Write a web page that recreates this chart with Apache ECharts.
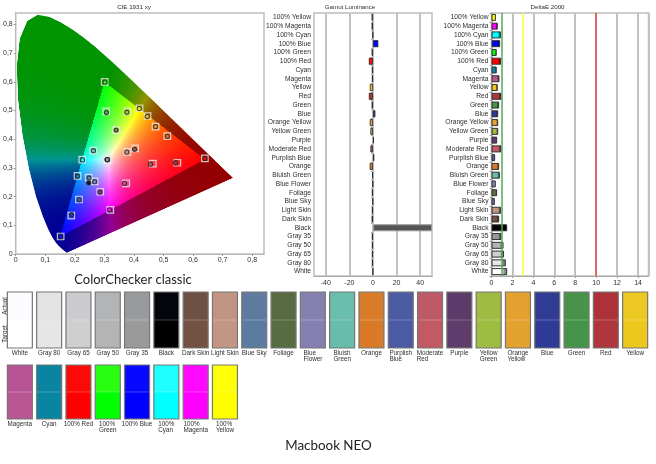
<!DOCTYPE html>
<html><head><meta charset="utf-8">
<style>html,body{margin:0;padding:0;background:#fff}#c{width:656px;height:464px;filter:blur(0.3px)}</style>
<script src="https://cdn.jsdelivr.net/npm/echarts@6/dist/echarts.min.js"></script>
</head><body><div id="c"></div>
<script>
// ---------- data ----------
const barCategories = ['100% Yellow','100% Magenta','100% Cyan','100% Blue','100% Green','100% Red','Cyan','Magenta','Yellow','Red','Green','Blue','Orange Yellow','Yellow Green','Purple','Moderate Red','Purplish Blue','Orange','Bluish Green','Blue Flower','Foliage','Blue Sky','Light Skin','Dark Skin','Black','Gray 35','Gray 50','Gray 65','Gray 80','White'];
const luminanceValues = [-1.2,-1.2,-0.3,4.5,-1.2,-3.5,-1,-1,-2.7,-3.5,-1.2,2,-2.7,-2.2,0.7,-2.2,1.1,-2.8,-0.7,-0.4,-1,-0.4,-1,-1.2,50,-1,-1,-1,-1,-0.3];
const luminanceTicks = [-40,-20,0,20,40];
const deltaEValues = [0.42,0.6,0.9,0.83,0.5,0.92,0.5,0.76,0.6,0.95,0.73,0.64,0.64,0.64,0.54,0.95,0.35,0.73,0.8,0.41,0.54,0.32,0.92,0.73,1.5,0.95,1.15,1.2,1.37,1.5];
const deltaELimits = [1,3,10];
const targetColors = {'100% Yellow':'#ffff00','100% Magenta':'#ff00ff','100% Cyan':'#00ffff','100% Blue':'#0000ff','100% Green':'#00ff00','100% Red':'#ff0000','Cyan':'#0885a1','Magenta':'#bb5695','Yellow':'#ecc71e','Red':'#af363c','Green':'#469449','Blue':'#2e3b96','Orange Yellow':'#e4a32e','Yellow Green':'#9dbc40','Purple':'#5e3c6c','Moderate Red':'#c15a63','Purplish Blue':'#4a5aa4','Orange':'#d97a28','Bluish Green':'#67bdaa','Blue Flower':'#8580b1','Foliage':'#576c43','Blue Sky':'#5b7ba0','Light Skin':'#c29682','Dark Skin':'#735244','Black':'#000000','Gray 35':'#9a9a9a','Gray 50':'#b4b4b4','Gray 65':'#cfcfcf','Gray 80':'#e6e6e6','White':'#ffffff'};
const actualColors = {'100% Yellow':'#ffff08','100% Magenta':'#ff08ff','100% Cyan':'#20ffff','100% Blue':'#0808ff','100% Green':'#28ff10','100% Red':'#ff0808','Cyan':'#0a84a0','Magenta':'#b85496','Yellow':'#ecc823','Red':'#ad3238','Green':'#48924a','Blue':'#303c94','Orange Yellow':'#e4a130','Yellow Green':'#a0ba42','Purple':'#5c3a6a','Moderate Red':'#be5a66','Purplish Blue':'#4c5ca2','Orange':'#d87c2a','Bluish Green':'#6abeac','Blue Flower':'#8481ae','Foliage':'#586a42','Blue Sky':'#5e7a9e','Light Skin':'#c09480','Dark Skin':'#6e5044','Black':'#04050a','Gray 35':'#999a9b','Gray 50':'#b3b4b5','Gray 65':'#ccccd0','Gray 80':'#e4e4e6','White':'#fcfcff'};
const swatchRow1 = ['White','Gray 80','Gray 65','Gray 50','Gray 35','Black','Dark Skin','Light Skin','Blue Sky','Foliage','Blue Flower','Bluish Green','Orange','Purplish Blue','Moderate Red','Purple','Yellow Green','Orange Yellow','Blue','Green','Red','Yellow'];
const swatchRow2 = ['Magenta','Cyan','100% Red','100% Green','100% Blue','100% Cyan','100% Magenta','100% Yellow'];
const swatchWrapped = ['Blue Flower','Bluish Green','Purplish Blue','Moderate Red','Yellow Green','Orange Yellow','100% Green','100% Cyan','100% Magenta','100% Yellow'];
const rowLabels = ['Target','Actual'];
const targetXY = {'White':[.31,.329],'Gray 80':[.31,.329],'Gray 65':[.31,.329],'Gray 50':[.31,.329],'Gray 35':[.31,.329],'Black':[.31,.329],'Dark Skin':[.404,.368],'Light Skin':[.378,.356],'Blue Sky':[.247,.266],'Foliage':[.34,.432],'Blue Flower':[.267,.253],'Bluish Green':[.262,.36],'Orange':[.513,.411],'Purplish Blue':[.214,.19],'Moderate Red':[.464,.315],'Purple':[.286,.217],'Yellow Green':[.378,.497],'Orange Yellow':[.473,.444],'Blue':[.188,.134],'Green':[.306,.497],'Red':[.547,.318],'Yellow':[.446,.481],'Magenta':[.374,.246],'Cyan':[.209,.272],'100% Red':[.64,.333],'100% Green':[.301,.6],'100% Blue':[.152,.061],'100% Cyan':[.225,.329],'100% Magenta':[.32,.154],'100% Yellow':[.419,.508]};
const actualXY = {'White':[.31,.329],'Gray 80':[.31,.329],'Gray 65':[.31,.329],'Gray 50':[.31,.329],'Gray 35':[.31,.329],'Black':[.247,.248],'Dark Skin':[.402,.365],'Light Skin':[.376,.355],'Blue Sky':[.248,.265],'Foliage':[.34,.432],'Blue Flower':[.267,.252],'Bluish Green':[.263,.36],'Orange':[.513,.41],'Purplish Blue':[.215,.189],'Moderate Red':[.456,.313],'Purple':[.285,.216],'Yellow Green':[.376,.494],'Orange Yellow':[.473,.444],'Blue':[.189,.137],'Green':[.307,.493],'Red':[.541,.318],'Yellow':[.445,.479],'Magenta':[.368,.246],'Cyan':[.209,.271],'100% Red':[.64,.333],'100% Green':[.302,.599],'100% Blue':[.152,.061],'100% Cyan':[.226,.328],'100% Magenta':[.317,.154],'100% Yellow':[.418,.507]};
const spectralLocus = [[.1741,.005],[.1714,.0051],[.1644,.0109],[.1566,.0177],[.144,.0297],[.1355,.0399],[.1241,.0578],[.1096,.0868],[.0913,.1327],[.0687,.2007],[.0454,.295],[.0235,.4127],[.0082,.5384],[.0039,.6548],[.0139,.7502],[.0389,.812],[.0743,.8338],[.1142,.8262],[.1547,.8059],[.1929,.7816],[.2296,.7543],[.2658,.7243],[.3016,.6923],[.3373,.6589],[.3731,.6245],[.4087,.5896],[.4441,.5547],[.4788,.5202],[.5125,.4866],[.5448,.4544],[.5752,.4242],[.6029,.3965],[.627,.3725],[.6658,.334],[.6915,.3083],[.7079,.292],[.719,.2809],[.726,.274],[.7347,.2653]];
const axisMaxXY = 0.84;

// ---------- style helpers ----------
const smallFont = '"Liberation Sans"';
const textCol = '#2e2e2e';
const gridCol = '#c2c2c2';
function buildField(){
  const S=500, cv=document.createElement('canvas'); cv.width=S; cv.height=S;
  const tmp=document.createElement('canvas'); tmp.width=S; tmp.height=S;
  const tc=tmp.getContext('2d'), im=tc.createImageData(S,S);
  for(let j=0;j<S;j++)for(let i=0;i<S;i++){
    const x=(i+.5)/S*axisMaxXY, y=(1-(j+.5)/S)*axisMaxXY, X=x/y, Z=(1-x-y)/y;
    let r=3.2406*X-1.5372-.4986*Z, g=-.9689*X+1.8758+.0415*Z, b=.0557*X-.204+1.057*Z;
    const rNeg=r<0, out=Math.min(r,g,b)<0;
    r=Math.max(r,0);g=Math.max(g,0);b=Math.max(b,0);
    const m=Math.max(r,g,b)||1; r/=m;g/=m;b/=m;
    if(out){const p=rNeg?2:1.3; r=Math.pow(r,p)*.58;g=Math.pow(g,p)*.58;b=Math.pow(b,p)*.58;}
    const o=(j*S+i)*4;
    im.data[o]=255*r;im.data[o+1]=255*g;im.data[o+2]=255*b;im.data[o+3]=255;
  }
  tc.putImageData(im,0,0);
  const c=cv.getContext('2d');
  c.beginPath();
  spectralLocus.forEach((p,k)=>{const px=p[0]/axisMaxXY*S,py=(1-p[1]/axisMaxXY)*S;k?c.lineTo(px,py):c.moveTo(px,py);});
  c.closePath();c.clip();c.drawImage(tmp,0,0);
  return cv;
}
const field=buildField();
function barAxes(idx,min,max,interval,fmt,grid){return {
  x:{type:'value',gridIndex:idx,min,max,interval,
    axisLine:{show:true,lineStyle:{color:'#aaa',width:1}},axisTick:{show:grid,length:2,lineStyle:{color:'#999'}},
    axisLabel:{show:true,color:textCol,fontFamily:smallFont,fontSize:7,margin:4,formatter:fmt,showMaxLabel:false},
    splitLine:{show:grid,lineStyle:{color:gridCol,width:2}}},
  y:{type:'category',gridIndex:idx,inverse:true,data:barCategories,
    axisLine:{show:true,lineStyle:{color:'#aaa'}},axisTick:{show:true,length:2,alignWithLabel:false,lineStyle:{color:'#999'}},
    axisLabel:{interval:0,color:textCol,fontFamily:smallFont,fontSize:6.7,margin:3},splitLine:{show:false}}
};}
const lumAxes=barAxes(1,-50,50,10,v=>(luminanceTicks.includes(v)?String(v):''),false);
const deAxes=barAxes(2,0,15,2,v=>(v===15?'':String(v)),true);
function darker(hex,f){const n=parseInt(hex.slice(1),16);return `rgb(${(n>>16&255)*f|0},${(n>>8&255)*f|0},${(n&255)*f|0})`;}
function swatchLabel(name){
  if(swatchWrapped.includes(name)) return name.split(' ').map(s=>`{l|${s}}`).join('\n');
  return name;
}
function swatchRender(names){return function(params,api){
  const name=names[params.dataIndex], i=api.value(0);
  const top=api.coord([i,1]), bot=api.coord([i,0]), size=api.size([1,1]);
  const w=25, h=size[1], x=top[0]-w/2;
  return {type:'group',children:[
    {type:'rect',shape:{x,y:top[1]-h/2,width:w,height:h},style:{fill:actualColors[name]}},
    {type:'rect',shape:{x,y:bot[1]-h/2,width:w,height:h},style:{fill:targetColors[name]}},
    {type:'rect',shape:{x,y:bot[1]-h/2-1,width:w,height:2},style:{fill:'rgba(255,255,255,0.12)'}},
    {type:'rect',shape:{x,y:top[1]-h/2,width:w,height:2*h},style:{fill:'none',stroke:'#777',lineWidth:1.2}}
  ]};
};}
function swatchAxes(idx,names,showY){return {
  x:{type:'category',gridIndex:idx,data:names,axisLine:{show:false},axisTick:{show:false},
    axisLabel:{interval:0,fontFamily:smallFont,fontSize:6.3,color:textCol,margin:2.5,lineHeight:6,hideOverlap:false,
      formatter:swatchLabel,rich:{l:{align:'left',fontFamily:smallFont,fontSize:6.3,color:textCol,lineHeight:6}}}},
  y:{type:'category',gridIndex:idx,data:rowLabels,axisLine:{show:false},axisTick:{show:false},
    axisLabel:{show:showY,rotate:90,interval:0,fontFamily:smallFont,fontSize:6.3,color:textCol,margin:-3}}
};}
const s1=swatchAxes(3,swatchRow1,true), s2=swatchAxes(4,swatchRow2,false);
const commaFmt=v=>v===0?'0':v.toFixed(1).replace('.',',');
const xyAxis=()=>({type:'value',gridIndex:0,min:0,max:axisMaxXY,interval:.1,
  axisLine:{show:true,lineStyle:{color:'#bbb'}},axisTick:{show:true,length:2,lineStyle:{color:'#999'}},
  axisLabel:{color:textCol,fontFamily:smallFont,fontSize:7,margin:3,formatter:commaFmt,showMaxLabel:false},splitLine:{show:false}});

const gridBorder={show:true,borderColor:'#bdbdbd',borderWidth:1.5,backgroundColor:'transparent'};
const titleSmall={fontFamily:smallFont,fontSize:6.2,fontWeight:'normal',color:textCol};
const titleBig={fontFamily:'Lato',fontSize:13,fontWeight:'normal',color:'#222'};
const titleBig2={fontFamily:'Lato',fontSize:13.4,fontWeight:'normal',color:'#222'};

const drawOrder=[...barCategories].reverse();
const chart=echarts.init(document.getElementById('c'),null,{renderer:'canvas'});
chart.setOption({
  animation:false,backgroundColor:'#fff',
  title:[
    {text:'CIE 1931 xy',left:129,top:-1,textAlign:'center',textStyle:titleSmall},
    {text:'Gamut Luminance',left:345,top:-1,textAlign:'center',textStyle:titleSmall},
    {text:'DeltaE 2000',left:542.5,top:-1,textAlign:'center',textStyle:titleSmall},
    {text:'ColorChecker classic',left:128,top:268.5,textAlign:'center',textStyle:titleBig},
    {text:'Macbook NEO',left:323.5,top:434.5,textAlign:'center',textStyle:titleBig2}
  ],
  grid:[
    {left:15,top:13,width:249,height:241,...gridBorder},
    {left:314,top:13,width:118,height:263,...gridBorder},
    {left:491.5,top:13,width:157,height:263,...gridBorder},
    {left:5.2,top:292,width:644.6,height:56},
    {left:5.2,top:365,width:234.4,height:54}
  ],
  xAxis:[xyAxis(),lumAxes.x,deAxes.x,s1.x,s2.x],
  yAxis:[xyAxis(),lumAxes.y,deAxes.y,s1.y,s2.y],
  series:[
    {type:'custom',name:'Gamut',xAxisIndex:0,yAxisIndex:0,data:[[0,0]],z:1,silent:true,
      renderItem:(p,api)=>{const a=api.coord([0,axisMaxXY]),b=api.coord([axisMaxXY,0]);
        return {type:'image',style:{image:field,x:a[0],y:a[1],width:b[0]-a[0],height:b[1]-a[1]}};}},
    {type:'scatter',name:'Target',xAxisIndex:0,yAxisIndex:0,z:3,symbol:'rect',symbolSize:6.5,
      data:drawOrder.map(n=>({value:targetXY[n],itemStyle:{color:'rgba(255,255,255,0.15)',borderColor:'#e8e8e8',borderWidth:1.2}}))},
    {type:'scatter',name:'Actual',xAxisIndex:0,yAxisIndex:0,z:4,symbol:'circle',symbolSize:4.2,
      data:drawOrder.map(n=>({value:actualXY[n],itemStyle:{color:n==='Black'?'#000':actualColors[n],borderColor:'#222',borderWidth:1.1}}))},
    {type:'bar',name:'Gamut Luminance',xAxisIndex:1,yAxisIndex:1,barWidth:7,z:3,
      data:luminanceValues.map((v,i)=>{const n=barCategories[i];return {value:v,itemStyle:n==='Black'?{color:'#555',borderColor:'#999',borderWidth:1}:{color:actualColors[n],borderColor:'#222',borderWidth:.8}};}),
      markLine:{silent:true,symbol:'none',label:{show:false},animation:false,z:1,
        data:luminanceTicks.map(v=>({xAxis:v,lineStyle:{type:'solid',width:2,color:gridCol}}))}},
    {type:'bar',name:'DeltaE 2000',xAxisIndex:2,yAxisIndex:2,barWidth:7,z:2,
      data:deltaEValues.map((v,i)=>{const n=barCategories[i],c=targetColors[n];return {value:v,itemStyle:{
        color:{type:'linear',x:0,y:0,x2:1,y2:0,colorStops:[{offset:0,color:c},{offset:.7,color:c},{offset:.8,color:darker(c,.55)},{offset:1,color:darker(c,.55)}]},
        borderColor:'#333',borderWidth:1}};}),
      markLine:{silent:true,symbol:'none',label:{show:false},animation:false,z:5,
        data:deltaELimits.map((v,i)=>({xAxis:v,lineStyle:{type:'solid',width:1.5,color:['#55a85a','#ffff30','#f04444'][i]}}))}},
    {type:'custom',name:'Swatches A',xAxisIndex:3,yAxisIndex:3,data:swatchRow1.map((n,i)=>[i,0]),renderItem:swatchRender(swatchRow1)},
    {type:'custom',name:'Swatches B',xAxisIndex:4,yAxisIndex:4,data:swatchRow2.map((n,i)=>[i,0]),renderItem:swatchRender(swatchRow2)}
  ]
});
</script></body></html>
